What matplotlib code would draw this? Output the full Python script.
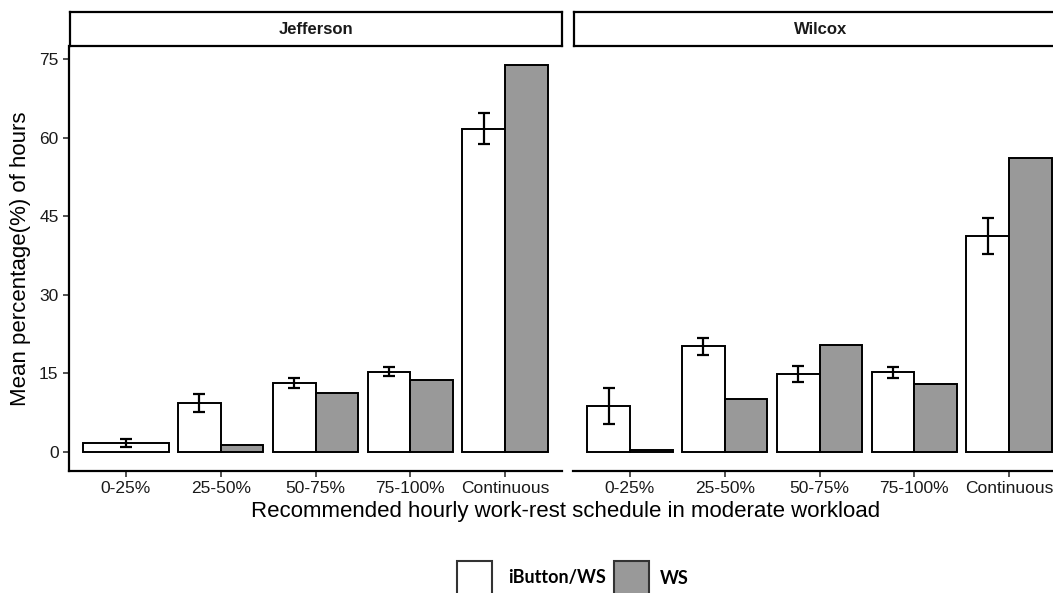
import numpy as np
import matplotlib
matplotlib.use("Agg")
import matplotlib.pyplot as plt
from matplotlib.patches import Rectangle

categories = ["0-25%", "25-50%", "50-75%", "75-100%", "Continuous"]
sites = ["Jefferson", "Wilcox"]
series_names = ["iButton/WS", "WS"]

jef_ibutton = [1.7, 9.3, 13.1, 15.3, 61.7]
jef_ibutton_err = [0.8, 1.65, 0.9, 0.9, 2.95]
jef_ws = [np.nan, 1.3, 11.3, 13.7, 73.8]

wil_ibutton = [8.7, 20.1, 14.9, 15.2, 41.2]
wil_ibutton_err = [3.4, 1.6, 1.55, 1.05, 3.4]
wil_ws = [0.4, 10.1, 20.4, 13.0, 56.1]

yticks = [0, 15, 30, 45, 60, 75]

W, H = 1053, 593
fig = plt.figure(figsize=(W / 100, H / 100), dpi=100)
fig.patch.set_facecolor("white")

BASE = ["Liberation Sans", "DejaVu Sans"]
GREY = "#999999"
LW = 1.4


def rect(x0, y0, x1, y1):
    return [x0 / W, 1 - y1 / H, (x1 - x0) / W, (y1 - y0) / H]


panels = [
    (rect(69, 46, 562, 471), rect(70, 12, 562, 46), jef_ibutton, jef_ibutton_err, jef_ws, True),
    (rect(573, 46, 1066, 471), rect(574, 12, 1067, 46), wil_ibutton, wil_ibutton_err, wil_ws, False),
]

for (prect, srect, ib, iberr, ws, first), site in zip(panels, sites):
    ax = fig.add_axes(prect)
    x = np.arange(1, len(categories) + 1)
    bw = 0.45
    for i, xi in enumerate(x):
        if np.isnan(ws[i]):
            ax.bar(xi, ib[i], width=0.9, color="white", edgecolor="black", linewidth=LW, zorder=2)
            ax.errorbar(xi, ib[i], yerr=iberr[i], fmt="none", ecolor="black",
                        elinewidth=1.6, capsize=4, capthick=1.6, zorder=3)
        else:
            ax.bar(xi - bw / 2, ib[i], width=bw, color="white", edgecolor="black", linewidth=LW, zorder=2)
            ax.bar(xi + bw / 2, ws[i], width=bw, color=GREY, edgecolor="black", linewidth=LW, zorder=2)
            ax.errorbar(xi - bw / 2, ib[i], yerr=iberr[i], fmt="none", ecolor="black",
                        elinewidth=1.6, capsize=4, capthick=1.6, zorder=3)
    ax.set_xlim(0.4, 5.6)
    ax.set_ylim(-3.69, 77.5)
    ax.set_xticks(x)
    ax.set_xticklabels(categories, fontsize=12.5, color="#1a1a1a", family=BASE)
    for s in ["top", "right"]:
        ax.spines[s].set_visible(False)
    ax.spines["bottom"].set_linewidth(1.6)
    ax.tick_params(axis="x", length=4.5, width=1.2, pad=3, color="#333333")
    if first:
        ax.spines["left"].set_linewidth(1.6)
        ax.set_yticks(yticks)
        ax.set_yticklabels([str(t) for t in yticks], fontsize=12.5, color="#1a1a1a", family=BASE)
        ax.tick_params(axis="y", length=4.5, width=1.2, pad=3, color="#333333")
    else:
        ax.spines["left"].set_visible(False)
        ax.set_yticks([])
    ax.set_facecolor("none")

    sax = fig.add_axes(srect)
    sax.set_xticks([])
    sax.set_yticks([])
    for s in sax.spines.values():
        s.set_linewidth(1.6)
        s.set_color("black")
    sax.text(0.5, 0.5, site, transform=sax.transAxes, ha="center", va="center",
             fontsize=12, fontweight="bold", family=BASE, color="#1a1a1a")

fig.text(566 / W, 1 - 512 / H, "Recommended hourly work-rest schedule in moderate workload",
         ha="center", va="center", fontsize=16, family=BASE, color="black")
fig.text(21 / W, 1 - 259 / H, "Mean percentage(%) of hours", rotation=90,
         ha="center", va="center", fontsize=16, family=BASE, color="black")

# legend
leg_items = [(457, "white", series_names[0], 508), (614, GREY, series_names[1], 660)]
for x0, col, lab, tx in leg_items:
    fig.patches.append(Rectangle((x0 / W, 1 - 600 / H), 35 / W, 39 / H, transform=fig.transFigure,
                                 facecolor=col, edgecolor="#333333", linewidth=1.5))
    fig.text(tx / W, 1 - 578 / H, lab, ha="left", va="center", fontsize=13,
             family=["Lato", "DejaVu Sans"], fontweight="bold", color="black")

fig.savefig("out.png", dpi=100, facecolor="white")
